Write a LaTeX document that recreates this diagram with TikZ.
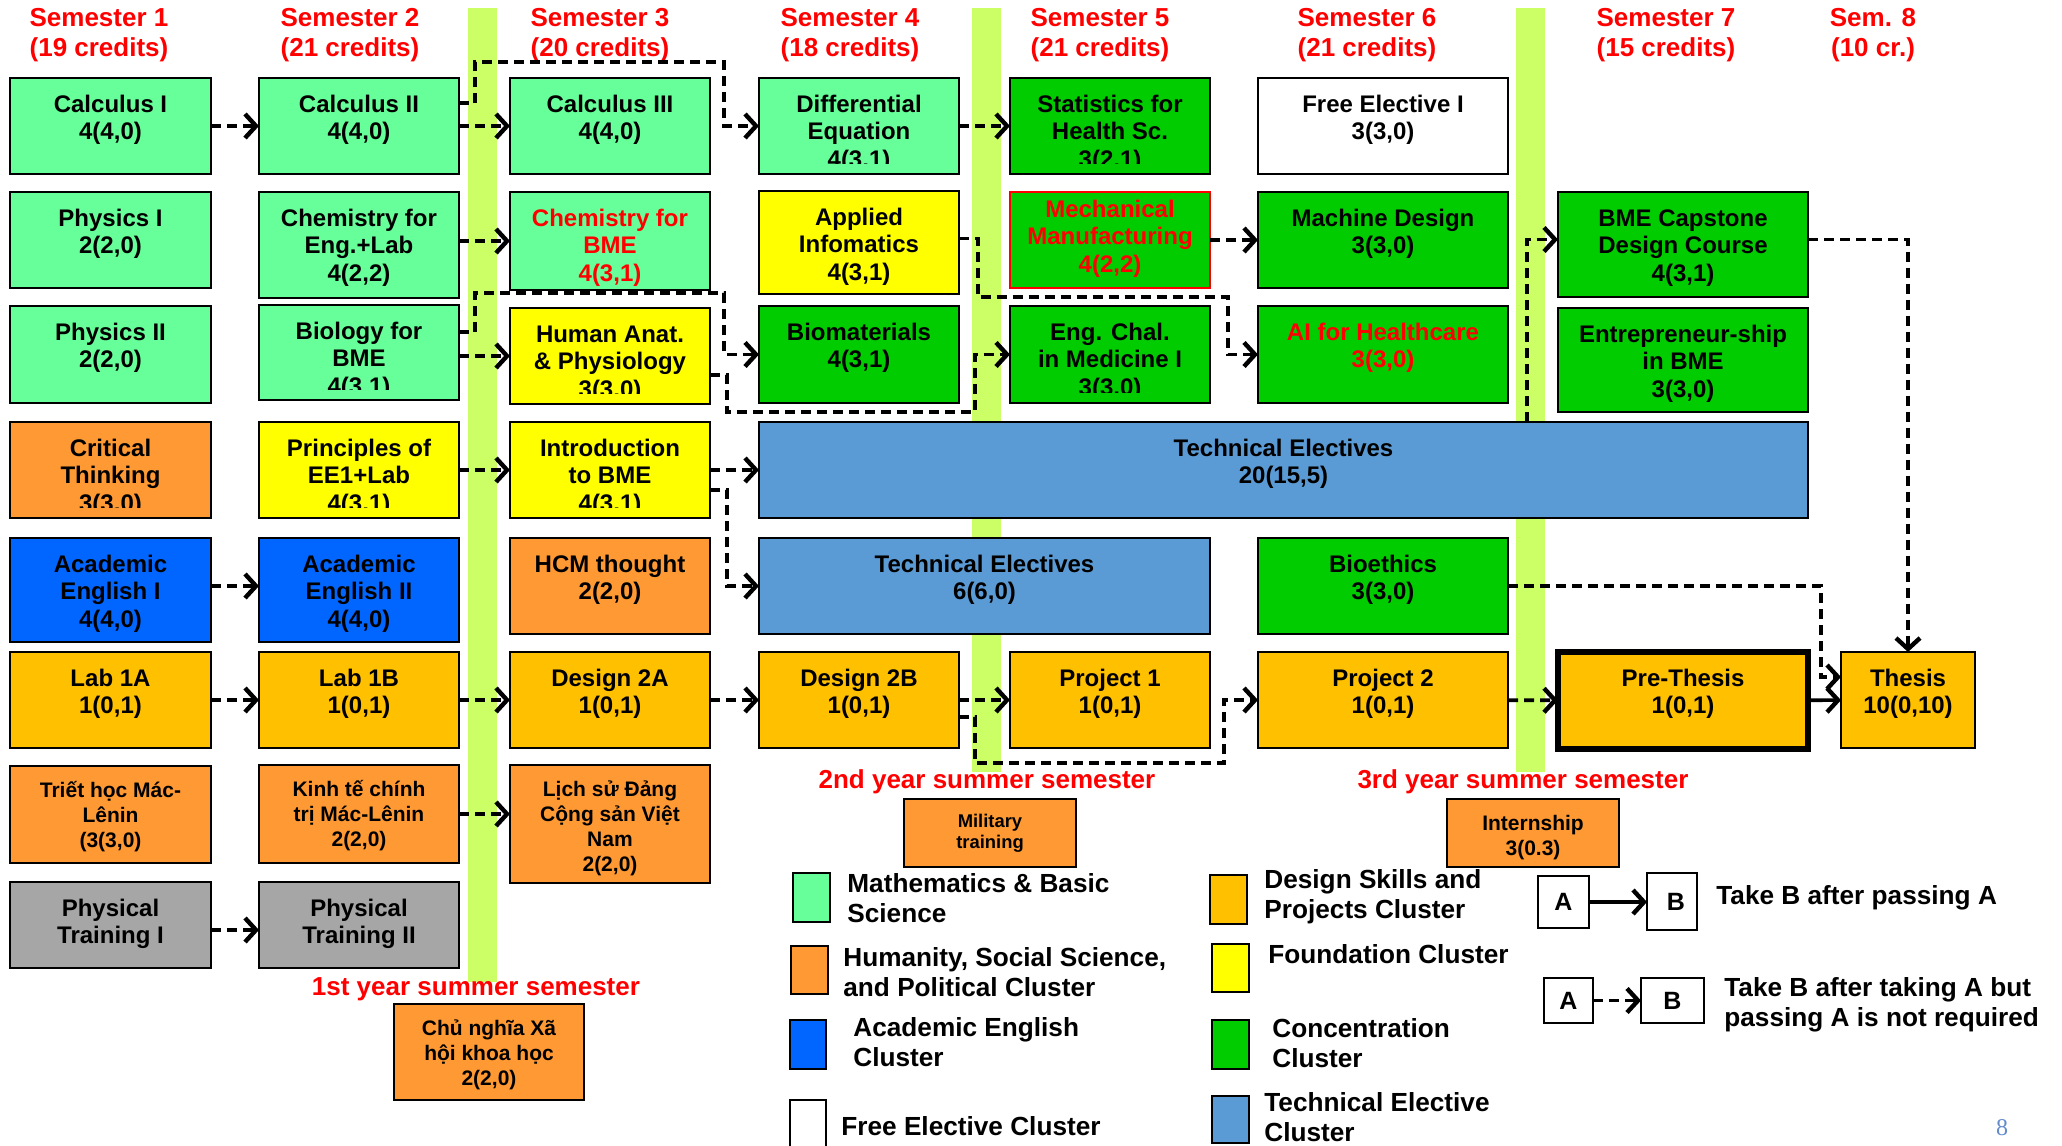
\documentclass[tikz,border=0pt]{standalone}
\usepackage{fontspec}
\setmainfont{Liberation Sans}
\newfontfamily\pnfont{Liberation Serif}
\usetikzlibrary{arrows.meta,fit,calc}
\definecolor{mathg}{RGB}{102,255,153}
\definecolor{concg}{RGB}{0,204,0}
\definecolor{found}{RGB}{255,255,0}
\definecolor{designc}{RGB}{255,192,0}
\definecolor{human}{RGB}{255,153,51}
\definecolor{acad}{RGB}{0,102,255}
\definecolor{techc}{RGB}{91,155,213}
\definecolor{grayc}{RGB}{166,166,166}
\definecolor{barc}{RGB}{204,255,102}
\definecolor{pagec}{RGB}{100,140,205}
\tikzset{
  cbox/.style={draw=black, line width=1.3pt, inner sep=0pt, outer sep=0pt, rectangle},
  ctext/.style={font=\fontsize{12pt}{13.75pt}\selectfont\bfseries, align=center, inner sep=0pt, anchor=north},
  csmall/.style={font=\fontsize{10.5pt}{12.5pt}\selectfont\bfseries},
  ctiny/.style={font=\fontsize{9.2pt}{10.5pt}\selectfont\bfseries},
  redtxt/.style={text=red},
  dep/.style={line width=1.8pt, dash pattern=on 5pt off 3pt,
    -{Straight Barb[length=5.5pt,width=12pt,line width=2.2pt]}},
  req/.style={line width=1.8pt, -{Straight Barb[length=5.5pt,width=12pt,line width=2.2pt]}},
  hdr/.style={text=red, font=\fontsize{13pt}{15pt}\selectfont\bfseries, align=center, inner sep=0pt},
  summer/.style={text=red, font=\fontsize{13pt}{14pt}\selectfont\bfseries, inner sep=0pt},
  legtext/.style={font=\fontsize{13.1pt}{15pt}\selectfont\bfseries, align=left, inner sep=0pt, anchor=west},
  abtext/.style={font=\fontsize{12.5pt}{14pt}\selectfont\bfseries, inner sep=0pt},
}
\newcommand\course[8][]{%
  \node[cbox,#7,fit={(#3,#4)(#5,#6)}] (#2) {};
  \node[ctext,#1] (#2-t) at ([yshift=-4.85pt]#2.north) {\rule{0pt}{1em}#8};}
\newcommand\coursec[8][]{%
  \node[cbox,#7,fit={(#3,#4)(#5,#6)}] (#2) {};
  \begin{scope}
    \clip ([yshift=-0.7pt]#2.north west) rectangle ([yshift=5.25pt]#2.south east);
    \node[ctext,#1] (#2-t) at ([yshift=-4.85pt]#2.north) {\rule{0pt}{1em}#8};
  \end{scope}}
\begin{document}
\begin{tikzpicture}[x=0.5pt, y=-0.5pt]
\useasboundingbox (0,0) rectangle (2062,1146);
\fill[white] (0,0) rectangle (2062,1146);
% summer bars
\fill[barc] (468,8) rectangle (497,982);
\fill[barc] (972,8) rectangle (1001,772);
\fill[barc] (1516,8) rectangle (1545,772);
% headers
\node[hdr] (h1) at (99,35) {Semester 1\\(19 credits)};
\node[hdr] (h2) at (350,35) {Semester 2\\(21 credits)};
\node[hdr] (h3) at (600,35) {Semester 3\\(20 credits)};
\node[hdr] (h4) at (850,35) {Semester 4\\(18 credits)};
\node[hdr] (h5) at (1100,35) {Semester 5\\(21 credits)};
\node[hdr] (h6) at (1367,35) {Semester 6\\(21 credits)};
\node[hdr] (h7) at (1666,35) {Semester 7\\(15 credits)};
\node[hdr] (h8) at (1873,35) {Sem. 8\\(10 cr.)};
% column 1
\course{calc1}{10}{78}{211}{174}{fill=mathg}{Calculus I\\4(4,0)}
\course{phys1}{10}{192}{211}{288}{fill=mathg}{Physics I\\2(2,0)}
\course{phys2}{10}{306}{211}{403}{fill=mathg}{Physics II\\2(2,0)}
\coursec{crit}{10}{422}{211}{518}{fill=human}{Critical\\Thinking\\3(3,0)}
\course{ae1}{10}{538}{211}{642}{fill=acad}{Academic\\English I\\4(4,0)}
\course{lab1a}{10}{652}{211}{748}{fill=designc}{Lab 1A\\1(0,1)}
\course[csmall]{triet}{10}{766}{211}{863}{fill=human}{Triết học Mác-\\Lênin\\(3(3,0)}
\course{pt1}{10}{882}{211}{968}{fill=grayc}{Physical\\Training I}
% column 2
\course{calc2}{259}{78}{459}{174}{fill=mathg}{Calculus II\\4(4,0)}
\course{chemeng}{259}{192}{459}{298}{fill=mathg}{Chemistry for\\Eng.+Lab\\4(2,2)}
\coursec{bio}{259}{305}{459}{400}{fill=mathg}{Biology for\\BME\\4(3,1)}
\coursec{ee1}{259}{422}{459}{518}{fill=found}{Principles of\\EE1+Lab\\4(3,1)}
\course{ae2}{259}{538}{459}{642}{fill=acad}{Academic\\English II\\4(4,0)}
\course{lab1b}{259}{652}{459}{748}{fill=designc}{Lab 1B\\1(0,1)}
\course[csmall]{kinhte}{259}{765}{459}{863}{fill=human}{Kinh tế chính\\trị Mác-Lênin\\2(2,0)}
\course{pt2}{259}{882}{459}{968}{fill=grayc}{Physical\\Training II}
% column 3
\course{calc3}{510}{78}{710}{174}{fill=mathg}{Calculus III\\4(4,0)}
\course[redtxt]{chembme}{510}{192}{710}{290}{fill=mathg}{Chemistry for\\BME\\4(3,1)}
\coursec{anat}{510}{308}{710}{404}{fill=found}{Human Anat.\\\& Physiology\\3(3,0)}
\coursec{intro}{510}{422}{710}{518}{fill=found}{Introduction\\to BME\\4(3,1)}
\course{hcm}{510}{538}{710}{634}{fill=human}{HCM thought\\2(2,0)}
\course{d2a}{510}{652}{710}{748}{fill=designc}{Design 2A\\1(0,1)}
\course[csmall]{lichsu}{510}{765}{710}{883}{fill=human}{Lịch sử Đảng\\Cộng sản Việt\\Nam\\2(2,0)}
\course[csmall]{cnxh}{394}{1004}{584}{1100}{fill=human}{Chủ nghĩa Xã\\hội khoa học\\2(2,0)}
% column 4
\coursec{diff}{759}{78}{959}{174}{fill=mathg}{Differential\\Equation\\4(3,1)}
\course{appinf}{759}{191}{959}{294}{fill=found}{Applied\\Infomatics\\4(3,1)}
\course{biomat}{759}{306}{959}{403}{fill=concg}{Biomaterials\\4(3,1)}
\course{tebig}{759}{422}{1808}{518}{fill=techc}{Technical Electives\\20(15,5)}
\course{te6}{759}{538}{1210}{634}{fill=techc}{Technical Electives\\6(6,0)}
\course{d2b}{759}{652}{959}{748}{fill=designc}{Design 2B\\1(0,1)}
% column 5
\coursec{stat}{1010}{78}{1210}{174}{fill=concg}{Statistics for\\Health Sc.\\3(2,1)}
\node[cbox,fill=concg,draw=red,fit={(1010,192)(1210,288)}] (mech) {};
\node[ctext,redtxt] (mech-t) at ([yshift=-0.5pt]mech.north) {\rule{0pt}{1em}Mechanical\\Manufacturing\\4(2,2)};
\coursec{engchal}{1010}{306}{1210}{403}{fill=concg}{Eng. Chal.\\in Medicine I\\3(3,0)}
\course{proj1}{1010}{652}{1210}{748}{fill=designc}{Project 1\\1(0,1)}
\course[ctiny]{military}{904}{799}{1076}{867}{fill=human}{Military\\training}
% column 6
\course{free1}{1258}{78}{1508}{174}{fill=white}{Free Elective I\\3(3,0)}
\course{machine}{1258}{192}{1508}{288}{fill=concg}{Machine Design\\3(3,0)}
\course[redtxt]{ai}{1258}{306}{1508}{403}{fill=concg}{AI for Healthcare\\3(3,0)}
\course{bioeth}{1258}{538}{1508}{634}{fill=concg}{Bioethics\\3(3,0)}
\course{proj2}{1258}{652}{1508}{748}{fill=designc}{Project 2\\1(0,1)}
\course[csmall]{intern}{1447}{799}{1619}{867}{fill=human}{Internship\\3(0.3)}
% column 7 and 8
\course{capstone}{1558}{192}{1808}{297}{fill=concg}{BME Capstone\\Design Course\\4(3,1)}
\course{entre}{1558}{308}{1808}{412}{fill=concg}{Entrepreneur-ship\\in BME\\3(3,0)}
\course{prethesis}{1558}{652}{1808}{749}{fill=designc,line width=2.6pt}{Pre-Thesis\\1(0,1)}
\course{thesis}{1841}{652}{1975}{748}{fill=designc}{Thesis\\10(0,10)}
% summer labels
\node[summer] (s1) at (476,989) {1st year summer semester};
\node[summer] (s2) at (987,782) {2nd year summer semester};
\node[summer] (s3) at (1523,782) {3rd year summer semester};
% connectors
\draw[dep] (calc1) -- (calc2);
\draw[dep] (calc2) -- (calc3);
\draw[dep] ([yshift=11.5pt]calc2.east) -| (475,62) -| (724,126) -- (diff.west);
\draw[dep] (chemeng.east |- chembme.west) -- (chembme.west);
\draw[dep] (bio.east |- anat.west) -- (anat.west);
\draw[dep] ([yshift=10.25pt]bio.east) -| (475,293) -| (724,354.5) -- (biomat.west);
\draw[dep] (diff) -- (stat);
\draw[dep] ([yshift=2pt]appinf.east) -| (978,297) -| (1228,354.5) -- (ai.west);
\draw[dep] ([yshift=-9.5pt]anat.east) -| (727,412) -| (975,354.5) -- (engchal.west);
\draw[dep] (mech) -- (machine);
\draw[dep] (ee1) -- (intro);
\draw[dep] (intro) -- (tebig);
\draw[dep] ([yshift=-10pt]intro.east) -| (727,586) -- (te6.west);
\draw[dep] ([yshift=2pt]ae1.east) -- ([yshift=2pt]ae2.west);
\draw[dep] (lab1a) -- (lab1b);
\draw[dep] (lab1b) -- (d2a);
\draw[dep] (d2a) -- (d2b);
\draw[dep] (d2b) -- (proj1);
\draw[dep] ([yshift=-8.5pt]d2b.east) -| (975,763) -| (1224,700) -- (proj2.west);
\draw[dep] (proj2) -- (prethesis);
\draw[req] (prethesis) -- (thesis);
\draw[dep] (bioeth.east) -| (1821,677) -- ([yshift=11.5pt]thesis.west);
\draw[dep] ([yshift=2.5pt]capstone.east) -| (thesis.north);
\draw[dep] ($(tebig.north west)+(768,0)$) |- ([yshift=2.5pt]capstone.west);
\draw[dep] (kinhte.east) -- (kinhte.east -| lichsu.west);
\draw[dep] ([yshift=-2.5pt]pt1.east) -- ([yshift=-2.5pt]pt2.west);
% legend
\node[cbox, fill=mathg, fit={(793,873)(830,922)}] (lgmath) {};
\node[legtext] (lgmath-t) at (847,898) {Mathematics \& Basic\\Science};
\node[cbox, fill=human, fit={(791,946)(828,994)}] (lghum) {};
\node[legtext] (lghum-t) at (843,972) {Humanity, Social Science,\\and Political Cluster};
\node[cbox, fill=acad, fit={(790,1020)(826,1069)}] (lgacad) {};
\node[legtext] (lgacad-t) at (853,1042) {Academic English\\Cluster};
\node[cbox, fill=white, fit={(790,1100)(826,1160)}] (lgfree) {};
\node[legtext] (lgfree-t) at (841,1126) {Free Elective Cluster};
\node[cbox, fill=designc, fit={(1210,875)(1247,924)}] (lgdes) {};
\node[legtext] (lgdes-t) at (1264,897) {Design Skills and\\Projects Cluster};
\node[cbox, fill=found, fit={(1212,944)(1249,992)}] (lgfound) {};
\node[legtext] (lgfound-t) at (1268,954) {Foundation Cluster};
\node[cbox, fill=concg, fit={(1212,1020)(1249,1069)}] (lgconc) {};
\node[legtext] (lgconc-t) at (1272,1043) {Concentration\\Cluster};
\node[cbox, fill=techc, fit={(1212,1096)(1249,1143)}] (lgtech) {};
\node[legtext] (lgtech-t) at (1264,1117) {Technical Elective\\Cluster};
\node[cbox, fill=white, fit={(1538,876)(1589,928)}] (lgA1) {};
\node[abtext] (lgA1-t) at (lgA1) {A};
\node[cbox, fill=white, fit={(1647,873)(1697,930)}] (lgB1) {};
\node[abtext] (lgB1-t) at ([xshift=2pt]lgB1.center) {B};
\draw[req] (lgA1.east) -- (lgA1.east -| lgB1.west);
\node[legtext] (lg1-t) at (1716,898) {Take B after passing A};
\node[cbox, fill=white, fit={(1544,978)(1593,1023)}] (lgA2) {};
\node[abtext] (lgA2-t) at (lgA2) {A};
\node[cbox, fill=white, fit={(1641,978)(1704,1023)}] (lgB2) {};
\node[abtext] (lgB2-t) at (lgB2) {B};
\draw[dep] (lgA2.east) -- (lgB2.west);
\node[legtext] (lg2-t) at (1724,1005) {Take B after taking A but\\passing A is not required};
% page number
\node[font=\pnfont\fontsize{12pt}{12pt}\selectfont, text=pagec, inner sep=0pt] (pagenum) at (2002,1128) {8};
\end{tikzpicture}
\end{document}
